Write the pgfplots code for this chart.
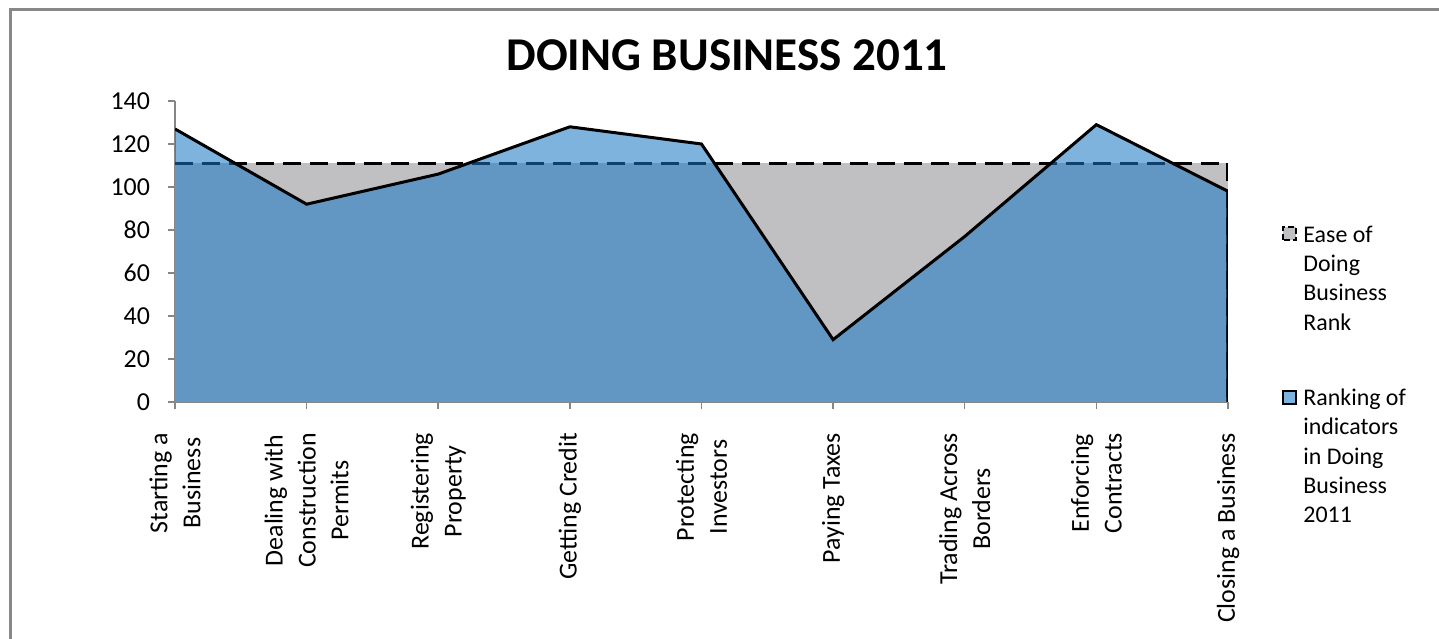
\documentclass[border=0pt]{standalone}
\usepackage{fontspec}
\setmainfont{Carlito}
\usepackage{pgfplots}
\pgfplotsset{compat=1.18}
\definecolor{easegray}{RGB}{192,192,194}
\definecolor{rankblue}{RGB}{25,119,196}
\definecolor{rankbluelight}{RGB}{126,179,222}
\definecolor{axisgray}{RGB}{134,134,134}
\definecolor{framegray}{RGB}{136,136,136}
\begin{document}
\begin{tikzpicture}
\useasboundingbox (0,0) rectangle (719.5bp,319.5bp);
\draw[framegray, line width=1.5bp] (5bp,0) -- (5bp,314.5bp) -- (719.5bp,314.5bp);
\begin{axis}[
  at={(87.5bp,118.5bp)}, anchor=south west,
  scale only axis, width=526.5bp, height=150.5bp,
  xmin=0, xmax=8, ymin=0, ymax=140,
  axis x line*=bottom, axis y line*=left,
  axis line style={axisgray, line width=0.75bp},
  xtick={0,1,2,3,4,5,6,7,8},
  xticklabels={{Starting a\\Business},{Dealing with\\Construction\\Permits},{Registering\\Property},{Getting Credit},{Protecting\\Investors},{Paying Taxes},{Trading Across\\Borders},{Enforcing\\Contracts},{Closing a Business}},
  ytick={0,20,40,60,80,100,120,140},
  tick style={axisgray, line width=0.75bp},
  tick align=outside, major tick length=3.5bp,
  xticklabel style={rotate=90, anchor=east, align=center, inner xsep=11.8bp, font=\fontsize{13}{16.5}\selectfont},
  yticklabel style={xshift=-5.5bp, font=\fontsize{13}{15}\selectfont},
  /pgf/number format/assume math mode=true,
]
\addplot[draw=none, fill=easegray] coordinates {(0,111) (8,111)} \closedcycle;
\addplot[black, line width=1.5bp, dash pattern=on 9bp off 4.5bp] coordinates {(0,111) (8,111) (8,0)};
\addplot[draw=none, fill=rankblue, fill opacity=0.56] coordinates {(0,127) (1,92) (2,106) (3,128) (4,120) (5,29) (6,77) (7,129) (8,98)} \closedcycle;
\addplot[black, line width=1.5bp] coordinates {(0,127) (1,92) (2,106) (3,128) (4,120) (5,29) (6,77) (7,129) (8,98) (8,0)};
\end{axis}
\node[font=\bfseries\fontsize{23.6}{28}\selectfont] at (363.5bp,292bp) {DOING BUSINESS 2011};
% legend
\filldraw[fill=easegray, draw=black, line width=0.75bp, dash pattern=on 3bp off 1.5bp] (641.5bp,199.5bp) rectangle (648bp,206bp);
\node[anchor=west, align=left, inner sep=0pt, font=\fontsize{12}{14.75}\selectfont] at (651.5bp,180.5bp) {Ease of\\Doing\\Business\\Rank};
\filldraw[fill=rankbluelight, draw=black, line width=0.75bp] (641.5bp,117.5bp) rectangle (648bp,124bp);
\node[anchor=west, align=left, inner sep=0pt, font=\fontsize{12}{14.75}\selectfont] at (651.5bp,91.5bp) {Ranking of\\indicators\\in Doing\\Business\\2011};
\end{tikzpicture}
\end{document}
